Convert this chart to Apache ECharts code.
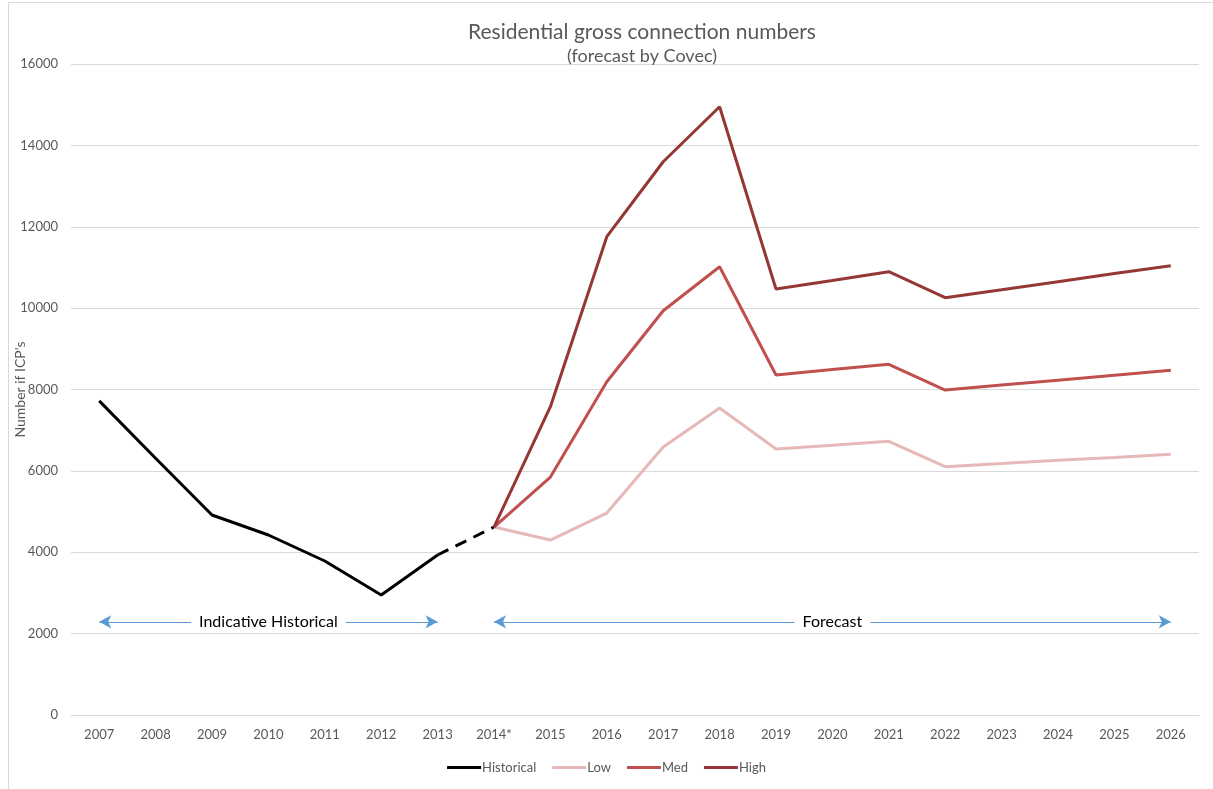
<!DOCTYPE html>
<html>
<head>
<meta charset="utf-8">
<title>Residential gross connection numbers</title>
<script src="https://cdn.jsdelivr.net/npm/echarts@6/dist/echarts.min.js"></script>
<style>
    html, body { margin: 0; padding: 0; background: #fff; }
    #main { width: 1213px; height: 789px; }
</style>
</head>
<body>
<div id="main"></div>
<script>
// 数据
var years = ['2007', '2008', '2009', '2010', '2011', '2012', '2013', '2014*', '2015', '2016',
    '2017', '2018', '2019', '2020', '2021', '2022', '2023', '2024', '2025', '2026'];
var historical = [7720, 6310, 4915, 4424, 3785, 2949, 3932, '-', '-', '-',
    '-', '-', '-', '-', '-', '-', '-', '-', '-', '-'];
var historicalEst = ['-', '-', '-', '-', '-', '-', 3932, 4620, '-', '-',
    '-', '-', '-', '-', '-', '-', '-', '-', '-', '-'];
var low = ['-', '-', '-', '-', '-', '-', '-', 4620, 4300, 4964,
    6586, 7545, 6537, 6630, 6726, 6103, 6180, 6260, 6330, 6407];
var med = ['-', '-', '-', '-', '-', '-', '-', 4620, 5849, 8191,
    9936, 11018, 8356, 8490, 8619, 7987, 8110, 8230, 8350, 8471];
var high = ['-', '-', '-', '-', '-', '-', '-', 4620, 7577, 11755,
    13598, 14950, 10469, 10680, 10895, 10256, 10450, 10650, 10850, 11042];
var yTicks = [0, 16000, 2000];
var arrowY = 2290;

(function (win) {
    var font = 'Lato, "Open Sans", sans-serif';
    var grey = '#595959';

    // 蓝色箭头注释
    function arrowLine(from, to, text) {
        return [{
            coord: [from, arrowY],
            label: {
                show: true,
                formatter: text,
                position: 'insideMiddle',
                distance: 0,
                color: '#000',
                fontSize: 16,
                fontFamily: font,
                backgroundColor: '#fff',
                padding: [2, 8]
            }
        }, {
            coord: [to, arrowY]
        }];
    }

    function line(name, data, color) {
        return {
            name: name,
            type: 'line',
            data: data,
            symbol: 'none',
            connectNulls: false,
            lineStyle: { color: color, width: 3 },
            itemStyle: { color: color },
            animation: false
        };
    }

    var histDash = line('Historical (est)', historicalEst, '#000');
    histDash.lineStyle.type = [12, 8];

    var histSeries = line('Historical', historical, '#000');
    histSeries.markLine = {
        silent: true,
        symbol: ['arrow', 'arrow'],
        symbolSize: [10, 12],
        lineStyle: { color: '#5b9bd5', width: 1, type: 'solid' },
        data: [
            arrowLine('2007', '2013', 'Indicative Historical'),
            arrowLine('2014*', '2026', 'Forecast')
        ],
        animation: false
    };

    var chart = echarts.init(document.getElementById('main'));
    chart.setOption({
        backgroundColor: '#fff',
        animation: false,
        title: {
            text: 'Residential gross connection numbers',
            subtext: '(forecast by Covec)',
            left: 637,
            top: 17,
            textAlign: 'center',
            itemGap: 4,
            textStyle: { fontFamily: font, fontSize: 21, fontWeight: 'normal', color: grey },
            subtextStyle: { fontFamily: font, fontSize: 18, color: grey }
        },
        legend: {
            data: ['Historical', 'Low', 'Med', 'High'],
            bottom: 10,
            left: 'center',
            icon: 'rect',
            itemWidth: 34,
            itemHeight: 3,
            itemGap: 16,
            textStyle: { fontFamily: font, fontSize: 13, color: grey, padding: [0, 0, 0, -4] }
        },
        grid: { left: 71, right: 14, top: 64, bottom: 74, outerBoundsMode: 'none', containLabel: false },
        xAxis: {
            type: 'category',
            data: years,
            boundaryGap: true,
            axisLine: { lineStyle: { color: '#d9d9d9' } },
            axisTick: { show: false },
            axisLabel: { color: grey, fontFamily: font, fontSize: 13, margin: 13 }
        },
        yAxis: {
            type: 'value',
            min: yTicks[0],
            max: yTicks[1],
            interval: yTicks[2],
            name: "Number if ICP's",
            nameLocation: 'middle',
            nameGap: 44,
            nameMoveOverlap: false,
            nameTextStyle: { color: grey, fontFamily: font, fontSize: 14 },
            axisLine: { show: false },
            axisTick: { show: false },
            splitLine: { lineStyle: { color: '#d9d9d9' } },
            axisLabel: {
                color: grey, fontFamily: font, fontSize: 13, margin: 13,
                formatter: function (v) { return String(v); }
            }
        },
        // 外框
        graphic: [{
            type: 'rect',
            shape: { x: 8.5, y: 2.5, width: 1300, height: 900 },
            style: { fill: null, stroke: '#d9d9d9', lineWidth: 1 },
            silent: true
        }],
        series: [
            histSeries,
            histDash,
            line('Low', low, '#e6b9b8'),
            line('Med', med, '#c0504d'),
            line('High', high, '#953735')
        ]
    });
})(window);
</script>
</body>
</html>
